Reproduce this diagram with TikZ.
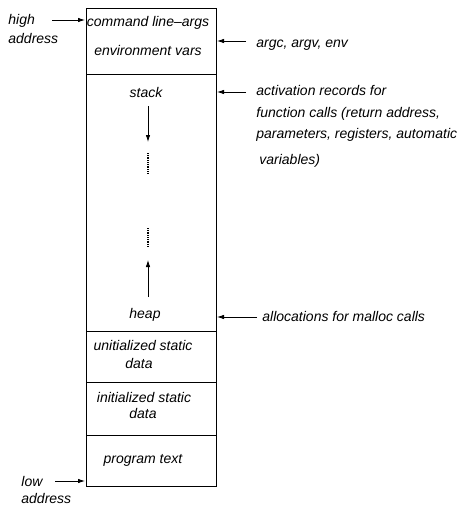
\documentclass[tikz,border=0pt]{standalone}
\usepackage{fontspec}
\setmainfont{Liberation Sans}
\usetikzlibrary{arrows.meta}

\begin{document}
\begin{tikzpicture}[x=1pt,y=-1pt,line width=.8pt,
	lbl/.style={font=\fontsize{14}{19}\selectfont\itshape,inner sep=0pt,anchor=base},
	note/.style={lbl,anchor=base west},
	ptr/.style={-{Latex[length=7pt,width=4.5pt]}},
	dots/.style={dash pattern=on .9pt off .9pt,line width=1.2pt}]
	\useasboundingbox (0,0) rectangle (461,506);
	% memory block
	\draw (86,8) rectangle (216,486);
	\draw (86,74) -- (216,74);
	\draw (86,331) -- (216,331);
	\draw (86,382) -- (216,382);
	\draw (86,435) -- (216,435);
	% segments
	\node[lbl] (cmd) at (148,27) {command line--args};
	\node[lbl] (env) at (148,55) {environment vars};
	\node[lbl] (stack) at (146,97) {stack};
	\node[lbl] (heap) at (145,318) {heap};
	\node[lbl] (bss) at (143,350) {unitialized static};
	\node[lbl] (bssb) at (139,368) {data};
	\node[lbl] (dat) at (144,402) {initialized static};
	\node[lbl] (datb) at (143,418) {data};
	\node[lbl] (txt) at (143,463) {program text};
	% growth
	\coordinate (sdn0) at (148,106); \coordinate (sdn1) at (148,142);
	\coordinate (hup0) at (148,297); \coordinate (hup1) at (148,260);
	\draw[ptr] (sdn0) -- (sdn1);
	\draw[ptr] (hup0) -- (hup1);
	\coordinate (d0) at (148,153); \coordinate (d1) at (148,173);
	\coordinate (d2) at (148,228); \coordinate (d3) at (148,247);
	\draw[dots] (d0) -- (d1);
	\draw[dots] (d2) -- (d3);
	% addresses
	\node[note] (high) at (8,24) {high};
	\node[note] (haddr) at (8,43) {address};
	\node[note] (low) at (21,486) {low};
	\node[note] (laddr) at (21,503) {address};
	\coordinate (hi0) at (52,20); \coordinate (hi1) at (85,20);
	\coordinate (lo0) at (55,481); \coordinate (lo1) at (85,481);
	\draw[ptr] (hi0) -- (hi1);
	\draw[ptr] (lo0) -- (lo1);
	% notes
	\node[note] (argc) at (256,47) {argc, argv, env};
	\node[note] (act1) at (256,95) {activation records for};
	\node[note] (act2) at (256,117) {function calls (return address,};
	\node[note] (act3) at (256,138) {parameters, registers, automatic};
	\node[note] (act4) at (259,164) {variables)};
	\node[note] (mal) at (262,321) {allocations for malloc calls};
	\coordinate (a0) at (246,41); \coordinate (a1) at (217,41);
	\coordinate (s0) at (246,92); \coordinate (s1) at (217,92);
	\coordinate (m0) at (257,317); \coordinate (m1) at (217,317);
	\draw[ptr] (a0) -- (a1);
	\draw[ptr] (s0) -- (s1);
	\draw[ptr] (m0) -- (m1);
\end{tikzpicture}
\end{document}
